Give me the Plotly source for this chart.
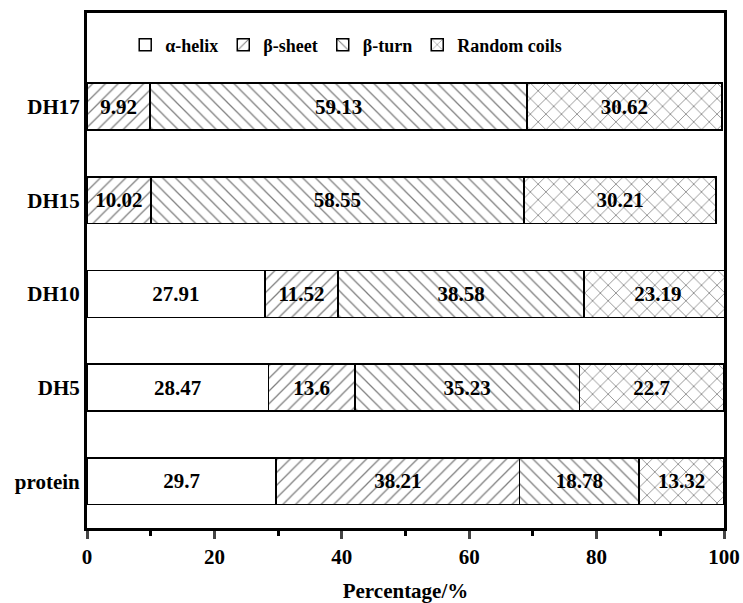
import plotly.graph_objects as go

categories = ["protein", "DH5", "DH10", "DH15", "DH17"]
alpha_helix = [29.7, 28.47, 27.91, 0, 0]
beta_sheet = [38.21, 13.6, 11.52, 10.02, 9.92]
beta_turn = [18.78, 35.23, 38.58, 58.55, 59.13]
random_coils = [13.32, 22.7, 23.19, 30.21, 30.62]
series_names = ["α-helix", "β-sheet", "β-turn", "Random coils"]
x_ticks = [0, 20, 40, 60, 80, 100]

FONT = "'Times New Roman', 'Liberation Serif', serif"
series = [alpha_helix, beta_sheet, beta_turn, random_coils]
patterns = ["", "/", "\\", "x"]
psizes = [8, 9, 9, 11]

fig = go.Figure()
for name, vals, pat, ps in zip(series_names, series, patterns, psizes):
    fig.add_trace(go.Bar(
        y=categories, x=vals, name=name, orientation="h", width=0.5,
        text=["" if v == 0 else f"{v:g}" for v in vals],
        textposition="inside", insidetextanchor="middle",
        textfont=dict(family=FONT, size=21, color="black", weight="bold"),
        marker=dict(color="white", line=dict(color="black", width=1.5),
                    pattern=dict(shape=pat, fgcolor="black", bgcolor="white",
                                 size=ps, solidity=0.14, fillmode="overlay")),
    ))

fig.update_layout(
    barmode="stack", width=743, height=603,
    margin=dict(l=87, r=19, t=13, b=75, autoexpand=False),
    plot_bgcolor="white", paper_bgcolor="white",
    font=dict(family=FONT, color="black"),
    uniformtext=dict(minsize=21, mode="show"),
    legend=dict(orientation="h", x=0.06, y=0.938, xanchor="left", yanchor="middle",
                font=dict(family=FONT, size=18, weight="bold"), traceorder="normal",
                itemwidth=30, bgcolor="rgba(0,0,0,0)"),
    showlegend=True,
)
fig.update_xaxes(range=[0, 100], tickvals=x_ticks, ticks="outside", ticklen=8, tickwidth=3,
                 showline=True, linewidth=3, linecolor="black", mirror=True, showgrid=False,
                 zeroline=False, automargin=False,
                 minor=dict(dtick=10, tick0=0, ticks="outside", ticklen=5, tickwidth=3, tickcolor="black"),
                 tickfont=dict(family=FONT, size=21, weight="bold"),
                 title=dict(text="Percentage/%", font=dict(family=FONT, size=21, weight="bold"), standoff=19))
fig.update_yaxes(range=[-0.5, 5.0], showline=True, linewidth=3, linecolor="black", mirror=True,
                 showgrid=False, ticks="", zeroline=False, automargin=False,
                 tickfont=dict(family=FONT, size=21, weight="bold"))

fig.write_html("out.html")
